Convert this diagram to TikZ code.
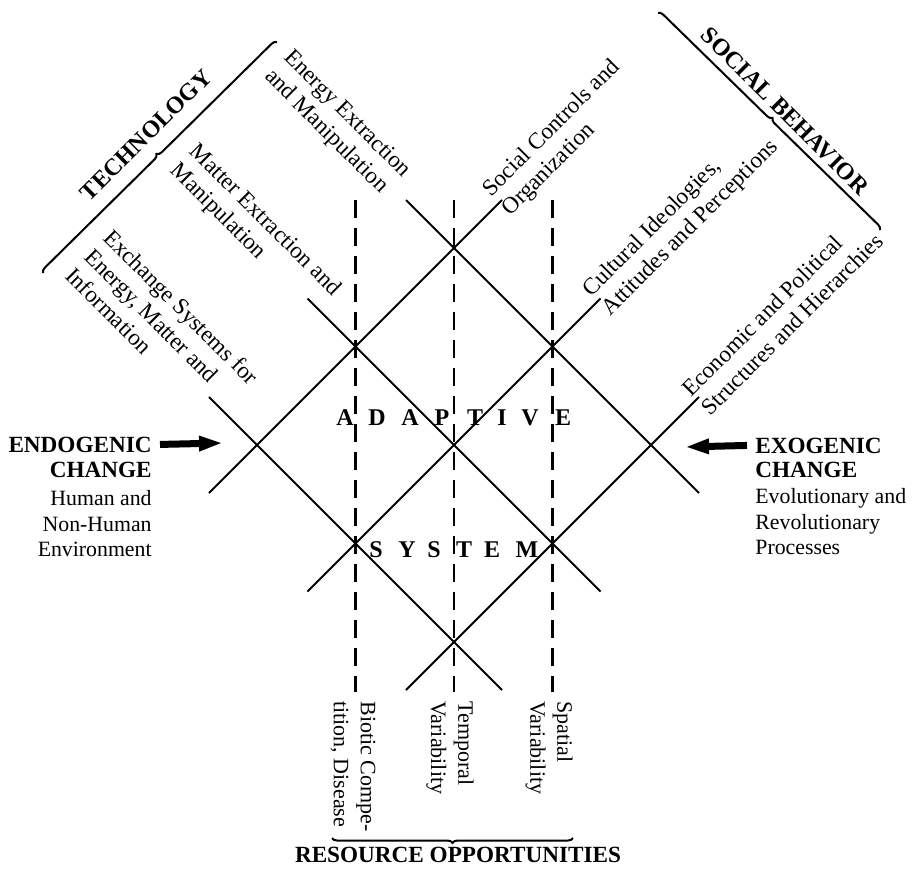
\documentclass[tikz,border=0pt]{standalone}
\usepackage{fontspec}
\setmainfont{Liberation Serif}
\usetikzlibrary{arrows.meta,decorations.pathreplacing}
\begin{document}
\begin{tikzpicture}[x=0.5pt,y=-0.5pt,
  gridline/.style={line width=1pt},
  dashline/.style={line width=1.25pt,dash pattern=on 9pt off 5pt},
  diag/.style={font=\fontsize{11.6}{13.5}\selectfont,align=left,inner sep=0pt,anchor=west},
  vlab/.style={font=\fontsize{11}{13.5}\selectfont,align=left,inner sep=0pt,rotate=-90,anchor=west},
  side/.style={font=\fontsize{10.9}{12.75}\selectfont,inner sep=0pt},
  head/.style={font=\bfseries\fontsize{11.6}{12.75}\selectfont,inner sep=0pt},
  bighead/.style={font=\bfseries\fontsize{12}{14}\selectfont,inner sep=0pt},
  letter/.style={font=\bfseries\fontsize{12}{14}\selectfont,inner sep=0pt,anchor=base},
  bracket/.style={line width=1pt,decorate,decoration={brace,amplitude=2.5pt}},
  bigarrow/.style={line width=3.5pt,-{Triangle[length=12pt,width=7pt]}},
]
\useasboundingbox (0,0) rectangle (914,872);

% intersections of the grid
\coordinate (T) at (454,248);
\coordinate (UL) at (355.5,346.5);
\coordinate (UR) at (552.5,346.5);
\coordinate (L) at (257,445);
\coordinate (C) at (454,445);
\coordinate (R) at (651,445);
\coordinate (LL) at (355.5,543.5);
\coordinate (LR) at (552.5,543.5);
\coordinate (B) at (454,642);
% free ends of the grid lines
\coordinate (A1) at (209,493);   \coordinate (A2) at (502,200);
\coordinate (B1) at (307.5,591.5); \coordinate (B2) at (600.5,298.5);
\coordinate (C1) at (406,690);   \coordinate (C2) at (699,397);
\coordinate (D1) at (307.5,298.5); \coordinate (D2) at (600.5,591.5);
\coordinate (E1) at (209,397);   \coordinate (E2) at (502,690);
\coordinate (F1) at (406,200);   \coordinate (F2) at (699,493);

\draw[gridline] (A1) -- (L) -- (T) -- (A2);
\draw[gridline] (B1) -- (LL) -- (C) -- (UR) -- (B2);
\draw[gridline] (C1) -- (B) -- (LR) -- (R) -- (C2);
\draw[gridline] (D1) -- (UL) -- (C) -- (LR) -- (D2);
\draw[gridline] (E1) -- (L) -- (LL) -- (B) -- (E2);
\draw[gridline] (F1) -- (T) -- (UR) -- (R) -- (F2);

% dashed verticals
\coordinate (V1t) at (355.5,200); \coordinate (V1b) at (355.5,692);
\coordinate (V2t) at (454,200);   \coordinate (V2b) at (454,692);
\coordinate (V3t) at (552.5,200); \coordinate (V3b) at (552.5,692);
\draw[dashline] (V1t) -- (V1b);
\draw[dashline] (V2t) -- (V2b);
\draw[dashline] (V3t) -- (V3b);

% technology labels
\node[diag,rotate=-45] (energy) at (277,64) {Energy Extraction\\and Manipulation};
\node[diag,rotate=-45] (matter) at (183,158) {Matter Extraction and\\Manipulation};
\node[diag,rotate=-45] (exchange) at (88.75,252.25) {Exchange Systems for\\Energy, Matter and\\Information};
% social labels
\node[diag,rotate=45] (socctrl) at (496.5,203.5) {Social Controls and\\Organization};
\node[diag,rotate=45] (cultural) at (596.5,303.5) {Cultural Ideologies,\\Attitudes and Perceptions};
\node[diag,rotate=45] (economic) at (695,402) {Economic and Political\\Structures and Hierarchies};

% brackets and their titles
\coordinate (tb1) at (43,273); \coordinate (tb2) at (277,42);
\coordinate (sb1) at (658,13); \coordinate (sb2) at (880,230);
\coordinate (rb1) at (573,838); \coordinate (rb2) at (332,838);
\draw[bracket] (tb1) -- (tb2);
\draw[bracket] (sb1) -- (sb2);
\draw[bracket] (rb1) -- (rb2);
\node[bighead,rotate=45] (tech) at (146,135) {TECHNOLOGY};
\node[bighead,rotate=-45] (social) at (785,111) {SOCIAL BEHAVIOR};
\node[head,anchor=base] (resource) at (458,862) {RESOURCE OPPORTUNITIES};

% bottom labels
\node[vlab] (biotic) at (353,701) {Biotic Compe-\\tition, Disease};
\node[vlab] (temporal) at (450,701) {Temporal\\Variability};
\node[vlab] (spatial) at (549,701) {Spatial\\Variability};

% side labels
\node[head,anchor=base east] (endo) at (152,452) {ENDOGENIC};
\node[head,anchor=base east] (endochange) at (152,477) {CHANGE};
\node[side,anchor=north east,align=right] (endotxt) at (152,490) {Human and\\Non-Human\\Environment};
\node[head,anchor=base west] (exo) at (755,453) {EXOGENIC};
\node[head,anchor=base west] (exochange) at (755,477) {CHANGE};
\node[side,anchor=north west,align=left] (exotxt) at (755,488) {Evolutionary and\\Revolutionary\\Processes};

\coordinate (endotip) at (223,443);
\coordinate (exotip) at (685,447);
\draw[bigarrow] ([xshift=4pt]endo.east) -- (endotip);
\draw[bigarrow] ([xshift=-4pt]exo.west) -- (exotip);

% ADAPTIVE SYSTEM
\foreach \ch/\x [count=\i] in {A/345,D/377,A/410,P/442,T/475,I/502,V/530,E/563}
  \node[letter] (ad\i) at (\x,425) {\ch};
\foreach \ch/\x [count=\i] in {S/376,Y/407,S/434,T/464,E/492,M/527}
  \node[letter] (sy\i) at (\x,557) {\ch};
\end{tikzpicture}
\end{document}
